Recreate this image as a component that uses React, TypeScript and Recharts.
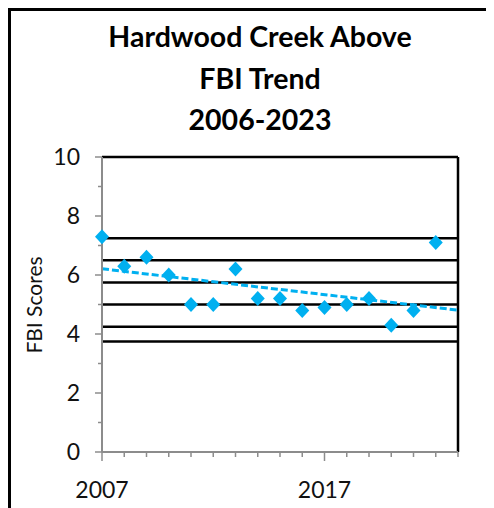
import { ComposedChart, Line, ReferenceLine, Scatter, XAxis, YAxis } from "recharts";

const years = [2007, 2008, 2009, 2010, 2011, 2012, 2013, 2014, 2015, 2016, 2017, 2018, 2019, 2020, 2021, 2022];
const fbiScores = [7.3, 6.3, 6.6, 6.0, 5.0, 5.0, 6.2, 5.2, 5.2, 4.8, 4.9, 5.0, 5.2, 4.3, 4.8, 7.1];
const trendYears = [2007, 2023];
const trendValues = [6.21, 4.81];
const ratingLines = [7.25, 6.5, 5.75, 5.0, 4.25, 3.75];
const xTicks = [2007, 2008, 2009, 2010, 2011, 2012, 2013, 2014, 2015, 2016, 2017, 2018, 2019, 2020, 2021, 2022, 2023];
const xLabelTicks = [2007, 2017];
const yTicks = [0, 1, 2, 3, 4, 5, 6, 7, 8, 9, 10];
const titleLines = ["Hardwood Creek Above", "FBI Trend", "2006-2023"];

const blue = "#00b0f0";
const axisGray = "#8c8c8c";
const font = "Lato, 'Open Sans', sans-serif";

const scoreData = years.map((y, i) => ({ year: y, score: fbiScores[i] }));
const trendData = trendYears.map((y, i) => ({ year: y, fit: trendValues[i] }));

function YTick(props: any) {
  const { x, y, payload } = props;
  const major = payload.value % 2 === 0;
  return (
    <g>
      <line x1={x - (major ? 7 : 4)} x2={x} y1={y} y2={y} stroke={axisGray} strokeWidth={1.5} />
      {major && (
        <text x={x - 22} y={y + 8} textAnchor="end" fontSize={23} fontFamily={font} fill="#111">
          {payload.value}
        </text>
      )}
    </g>
  );
}

function XTick(props: any) {
  const { x, y, payload } = props;
  const major = xLabelTicks.includes(payload.value);
  return (
    <g>
      <line x1={x} x2={x} y1={y} y2={y + (major ? 9 : 5)} stroke={axisGray} strokeWidth={1.5} />
      {major && (
        <text x={x} y={y + 46} textAnchor="middle" fontSize={23} fontFamily={font} fill="#111">
          {payload.value}
        </text>
      )}
    </g>
  );
}

function Diamond(props: any) {
  const { cx, cy } = props;
  return <polygon points={`${cx},${cy - 7.5} ${cx + 7},${cy} ${cx},${cy + 7.5} ${cx - 7},${cy}`} fill={blue} />;
}

export default function App() {
  return (
    <div style={{ position: "relative", width: 486, height: 500 }}>
      <div
        style={{
          position: "absolute",
          left: 0,
          top: 0,
          width: 486,
          height: 500,
          borderTop: "3px solid #000",
          borderLeft: "3px solid #000",
          boxSizing: "border-box",
        }}
      />
      <div
        style={{
          position: "absolute",
          left: 52,
          top: 8,
          width: 400,
          textAlign: "center",
          fontFamily: font,
          fontWeight: 700,
          fontSize: 28.5,
          lineHeight: "41.5px",
          color: "#000",
        }}
      >
        {titleLines.map((t) => (
          <div key={t}>{t}</div>
        ))}
      </div>
      <div
        style={{
          position: "absolute",
          left: 25,
          top: 297,
          transform: "translate(-50%, -50%) rotate(-90deg)",
          fontFamily: font,
          fontSize: 21,
          whiteSpace: "nowrap",
          color: "#111",
        }}
      >
        FBI Scores
      </div>
      <div style={{ position: "absolute", left: 0, top: 132 }}>
        <ComposedChart width={470} height={362} margin={{ top: 17, right: 20, left: 0, bottom: 0 }}>
          <XAxis
            type="number"
            dataKey="year"
            domain={[2007, 2023]}
            ticks={xTicks}
            interval={0}
            tickSize={0}
            tickMargin={0}
            tick={<XTick />}
            height={50}
            axisLine={{ stroke: axisGray, strokeWidth: 2 }}
          />
          <YAxis
            type="number"
            domain={[0, 10]}
            ticks={yTicks}
            interval={0}
            tickSize={0}
            tickMargin={0}
            tick={<YTick />}
            width={94}
            axisLine={{ stroke: axisGray, strokeWidth: 2 }}
          />
          <ReferenceLine y={10} stroke="#000" strokeWidth={2.5} />
          <ReferenceLine x={2023} stroke="#000" strokeWidth={2.5} />
          {ratingLines.map((v) => (
            <ReferenceLine key={v} y={v} stroke="#000" strokeWidth={2.5} />
          ))}
          <Line
            data={trendData}
            dataKey="fit"
            stroke={blue}
            strokeWidth={3}
            strokeDasharray="7 3"
            dot={false}
            isAnimationActive={false}
          />
          <Scatter data={scoreData} dataKey="score" shape={<Diamond />} isAnimationActive={false} />
        </ComposedChart>
      </div>
    </div>
  );
}
